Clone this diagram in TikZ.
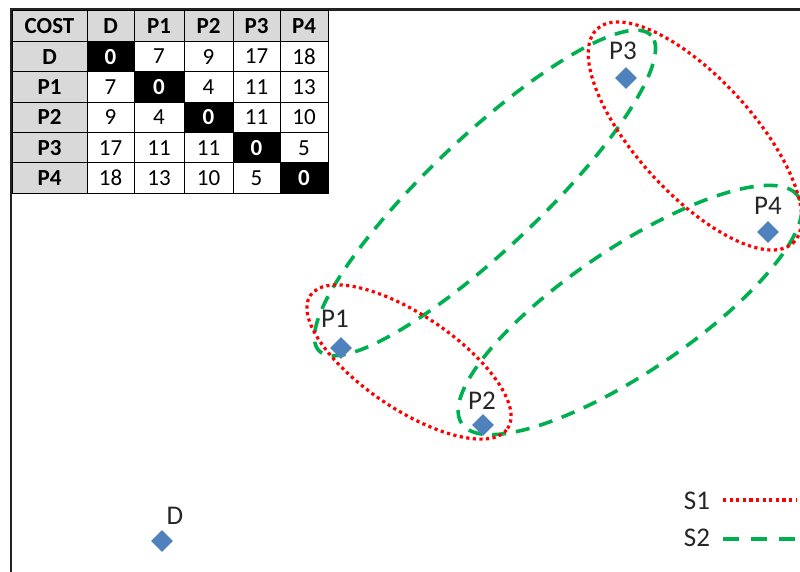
\documentclass[tikz,border=0pt]{standalone}
\usepackage{fontspec}
\setmainfont{Carlito}
\usetikzlibrary{shapes.geometric}
\definecolor{ptblue}{HTML}{4F81BD}
\definecolor{sred}{HTML}{FF0000}
\definecolor{sgreen}{HTML}{00B050}
\definecolor{hdrgray}{HTML}{D9D9D9}
\definecolor{framec}{HTML}{222222}
\tikzset{
  ptmark/.style={diamond, fill=ptblue, minimum size=22pt, inner sep=0pt},
  lbl/.style={font=\fontsize{27}{27}\selectfont, inner sep=0pt, text=black!85},
  sone/.style={draw=sred, line width=3.2pt, dash pattern=on 3.2pt off 3.4pt},
  stwo/.style={draw=sgreen, line width=3.6pt, dash pattern=on 14pt off 10pt},
  cellbase/.style={draw=black, line width=1pt, inner sep=0pt, minimum height=30.4pt},
  cell/.style={cellbase, fill=white, font=\fontsize{23}{23}\selectfont},
  hdr/.style={cellbase, fill=hdrgray, font=\fontsize{23}{23}\selectfont\bfseries},
  zero/.style={cellbase, fill=black, text=white, font=\fontsize{23}{23}\selectfont\bfseries},
}
\begin{document}
\begin{tikzpicture}[x=1pt,y=-1pt]
\useasboundingbox (0,0) rectangle (800,572);
\clip (0,0) rectangle (800,572);
\fill[white] (0,0) rectangle (800,572);

% frame
\draw[framec, line width=2.6pt] (801,9.8) -- (11,9.8) -- (11,573);

% cost table
\foreach \r/\vals in {0/{COST,D,P1,P2,P3,P4},1/{D,0,7,9,17,18},2/{P1,7,0,4,11,13},3/{P2,9,4,0,11,10},4/{P3,17,11,11,0,5},5/{P4,18,13,10,5,0}}{
  \foreach \v [count=\j from 0] in \vals {
    \pgfmathsetmacro{\cx}{{49.5,110.5,159,208.5,256.5,304}[\j]}
    \pgfmathsetmacro{\cw}{{75,47,50,49,47,48}[\j]}
    \pgfmathsetmacro{\cy}{26.2+30.4*\r}
    \ifnum\j=0 \def\sty{hdr}\else\ifnum\r=0 \def\sty{hdr}\else\ifnum\j=\r \def\sty{zero}\else\def\sty{cell}\fi\fi\fi
    \node[style=\sty, minimum width=\cw pt] (t-\r-\j) at (\cx,\cy) {\v};
  }
}

% S2 ellipses
\draw[stwo, shift={(485,193)}, rotate=43.5] (0,0) ellipse [x radius=229pt, y radius=56pt];
\draw[stwo, shift={(630,310)}, rotate=34] (0,0) ellipse [x radius=203pt, y radius=62pt];
% S1 ellipses
\draw[sone, shift={(409,362)}, rotate=-34] (0,0) ellipse [x radius=119pt, y radius=47pt];
\draw[sone, shift={(695,136)}, rotate=-47.6] (0,0) ellipse [x radius=145pt, y radius=58pt];

% points
\node[ptmark] (D) at (162,541) {};
\node[ptmark] (P1) at (341,348) {};
\node[ptmark] (P2) at (483,425) {};
\node[ptmark] (P3) at (626,78) {};
\node[ptmark] (P4) at (768,232) {};
\node[lbl] (lD) at (175,516) {D};
\node[lbl] (lP1) at (335,319) {P1};
\node[lbl] (lP2) at (482,401) {P2};
\node[lbl] (lP3) at (623,51) {P3};
\node[lbl] (lP4) at (768,206) {P4};

% legend
\node[lbl] (ls1) at (697,501) {S1};
\node[lbl] (ls2) at (697,538) {S2};
\coordinate (s1a) at (723,500);
\coordinate (s1b) at (797,500);
\coordinate (s2a) at (723,539);
\coordinate (s2b) at (800,539);
\draw[sone] (s1a) -- (s1b);
\draw[stwo, dash pattern=on 16pt off 12pt] (s2a) -- (s2b);
\end{tikzpicture}
\end{document}
